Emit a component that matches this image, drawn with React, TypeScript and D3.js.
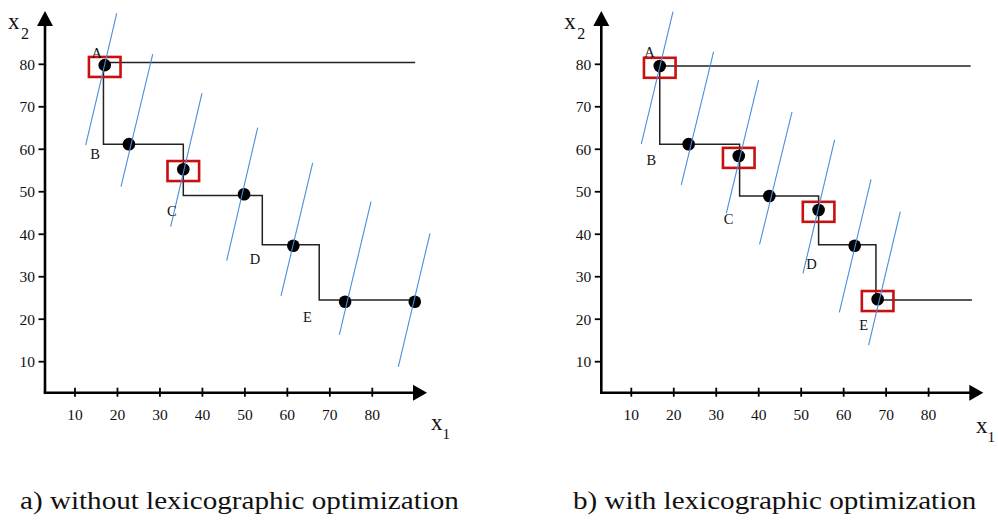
import React from "react";
import * as d3 from "d3";

// ---------- data ----------
const xTicks = [10, 20, 30, 40, 50, 60, 70, 80];
const yTicks = [10, 20, 30, 40, 50, 60, 70, 80];

// panel a) without lexicographic optimization
const dotsA: [number, number][] = [
  [17.0, 79.8], [22.7, 61.2], [35.5, 55.3], [49.8, 49.4], [61.4, 37.3], [73.6, 24.1], [90.0, 24.1],
];
const boxedA = [0, 2];
const stairA: [number, number][] = [
  [90.1, 80.4], [16.7, 80.4], [16.7, 61.2], [35.5, 61.2], [35.5, 49.1], [54.1, 49.1],
  [54.1, 37.5], [67.5, 37.5], [67.5, 24.5], [90.1, 24.5],
];
const blueA: [number, number, number, number][] = [
  [12.52, 61.0, 19.82, 92.0],
  [20.83, 51.2, 28.3, 82.4],
  [32.53, 41.8, 39.9, 73.2],
  [45.72, 33.8, 53.02, 65.1],
  [58.5, 25.5, 65.96, 56.8],
  [72.23, 16.3, 79.7, 47.7],
  [86.12, 8.8, 93.59, 40.2],
];
const labelsA: [string, number, number][] = [
  ["A", 15.1, 82.6], ["B", 14.7, 59.0], ["C", 32.8, 45.5], ["D", 52.4, 34.3], ["E", 64.7, 20.5],
];

// panel b) with lexicographic optimization
const dotsB: [number, number][] = [
  [16.7, 79.6], [23.5, 61.2], [35.3, 58.4], [42.5, 49.0], [54.1, 45.7], [62.6, 37.3], [68.0, 24.7],
];
const boxedB = [0, 2, 4, 6];
const stairB: [number, number][] = [
  [89.9, 79.6], [16.7, 79.6], [16.7, 61.2], [35.5, 61.2], [35.5, 49.0], [54.1, 49.0],
  [54.1, 37.5], [67.6, 37.5], [67.6, 24.5], [90.2, 24.5],
];
const blueB: [number, number, number, number][] = [
  [12.35, 61.2, 19.82, 92.4],
  [21.77, 51.6, 29.38, 83.0],
  [32.37, 44.9, 39.97, 76.3],
  [40.2, 37.6, 47.84, 68.8],
  [50.43, 30.8, 57.87, 62.2],
  [58.98, 21.6, 66.45, 52.9],
  [65.88, 13.9, 73.34, 45.3],
];
const labelsB: [string, number, number][] = [
  ["A", 14.3, 83.0], ["B", 14.7, 57.5], ["C", 32.9, 43.6], ["D", 52.4, 32.9], ["E", 64.7, 18.6],
];

const captions = ["a) without lexicographic optimization", "b) with lexicographic optimization"];

const FONT = "'Liberation Serif', 'Times New Roman', serif";

type PanelProps = {
  offset: number;
  dots: [number, number][];
  boxed: number[];
  stair: [number, number][];
  blue: [number, number, number, number][];
  labels: [string, number, number][];
  caption: string;
  captionX: number;
  x1LabelX: number;
  x1LabelY: number;
};

function Panel({ offset, dots, boxed, stair, blue, labels, caption, captionX, x1LabelX, x1LabelY }: PanelProps) {
  const x = d3.scaleLinear().domain([10, 80]).range([75 + offset, 372.3 + offset]);
  const y = d3.scaleLinear().domain([10, 80]).range([361.7, 64.3]);
  const axisX = 45 + offset;
  const axisY = 392.7;
  const tipX = 427 + offset;
  const tipY = 11;
  const line = d3
    .line<[number, number]>()
    .x((d) => x(d[0]))
    .y((d) => y(d[1]));

  return (
    <g>
      {/* axes */}
      <line x1={axisX} y1={axisY} x2={axisX} y2={tipY + 10} stroke="#000" strokeWidth={2.6} />
      <line x1={axisX - 1.3} y1={axisY} x2={tipX - 10} y2={axisY} stroke="#000" strokeWidth={2.6} />
      <path d={`M${axisX},${tipY} L${axisX - 8},${tipY + 15} L${axisX + 8},${tipY + 15} Z`} fill="#000" />
      <path d={`M${tipX},${axisY} L${tipX - 14},${axisY - 8} L${tipX - 14},${axisY + 8} Z`} fill="#000" />
      {yTicks.map((t) => (
        <g key={"y" + t}>
          <line x1={axisX - 6.5} x2={axisX} y1={y(t)} y2={y(t)} stroke="#000" strokeWidth={1.8} />
          <text x={axisX - 10} y={y(t)} dy="0.35em" textAnchor="end" fontSize={15.5} fontFamily={FONT} fill="#111">
            {t}
          </text>
        </g>
      ))}
      {xTicks.map((t) => (
        <g key={"x" + t}>
          <line x1={x(t)} x2={x(t)} y1={axisY - 5} y2={axisY + 4} stroke="#000" strokeWidth={1.8} />
          <text x={x(t)} y={420} textAnchor="middle" fontSize={15.5} fontFamily={FONT} fill="#111">
            {t}
          </text>
        </g>
      ))}
      {/* axis labels */}
      <text x={8 + offset} y={28.5} fontSize={23} fontFamily={FONT} fill="#111">x</text>
      <text x={21 + offset} y={38.5} fontSize={16} fontFamily={FONT} fill="#111">2</text>
      <text x={x1LabelX} y={x1LabelY} fontSize={23} fontFamily={FONT} fill="#111">x</text>
      <text x={x1LabelX + 11.5} y={x1LabelY + 9} fontSize={15} fontFamily={FONT} fill="#111">1</text>

      {/* staircase */}
      <path d={line(stair) || ""} fill="none" stroke="#222" strokeWidth={1.5} />
      {/* dots */}
      {dots.map((d, i) => (
        <circle key={"d" + i} cx={x(d[0])} cy={y(d[1])} r={6.3} fill="#000" />
      ))}
      {/* boxes */}
      {boxed.map((i) => (
        <rect
          key={"b" + i}
          x={x(dots[i][0]) - 15.8}
          y={y(dots[i][1]) - 8.2}
          width={31.6}
          height={20}
          fill="none"
          stroke="#c81010"
          strokeWidth={2.6}
        />
      ))}
      {/* blue lines */}
      {blue.map((b, i) => (
        <line key={"l" + i} x1={x(b[0])} y1={y(b[1])} x2={x(b[2])} y2={y(b[3])} stroke="#4a8edb" strokeWidth={1.1} />
      ))}
      {/* letters */}
      {labels.map((l) => (
        <text
          key={l[0]}
          x={x(l[1])}
          y={y(l[2])}
          dy="0.35em"
          textAnchor="middle"
          fontSize={14.5}
          fontFamily={FONT}
          fill="#111"
        >
          {l[0]}
        </text>
      ))}
      <text
        transform={`translate(${captionX},509) scale(1.165,1)`}
        fontSize={25}
        fontFamily={FONT}
        fill="#111"
      >
        {caption}
      </text>
    </g>
  );
}

export default function App() {
  return (
    <svg
      width={998}
      height={520}
      viewBox="0 0 998 520"
      style={{ position: "absolute", left: 0, top: 0, background: "#fff" }}
    >
      <rect width={998} height={520} fill="#fff" />
      <Panel
        offset={0}
        dots={dotsA}
        boxed={boxedA}
        stair={stairA}
        blue={blueA}
        labels={labelsA}
        caption={captions[0]}
        captionX={20}
        x1LabelX={431}
        x1LabelY={430}
      />
      <Panel
        offset={556.3}
        dots={dotsB}
        boxed={boxedB}
        stair={stairB}
        blue={blueB}
        labels={labelsB}
        caption={captions[1]}
        captionX={573}
        x1LabelX={976}
        x1LabelY={433}
      />
    </svg>
  );
}
